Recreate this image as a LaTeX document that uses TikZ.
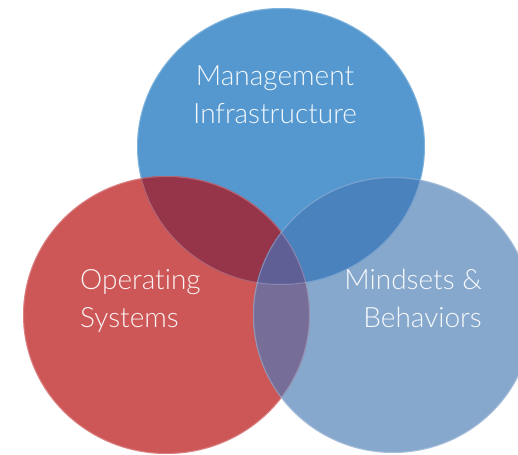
\documentclass[tikz,border=0pt]{standalone}
\usepackage{fontspec}
\setmainfont{Lato Light}[Ligatures=NoCommon]
\definecolor{cTop}{RGB}{84,152,207}
\definecolor{cRed}{RGB}{205,86,87}
\definecolor{cRight}{RGB}{135,168,205}
\definecolor{cRT}{RGB}{150,52,73}
\definecolor{cTR}{RGB}{74,130,190}
\definecolor{cRR}{RGB}{118,110,152}
\definecolor{cAll}{RGB}{95,95,150}
\tikzset{
  lbl/.style={text=white, text opacity=0.93, inner sep=0pt,
    font=\fontsize{28}{38}\selectfont},
  rim/.style={draw=white, draw opacity=0.25, line width=1pt}
}
\begin{document}
\begin{tikzpicture}[x=1pt,y=-1pt]
\useasboundingbox (0,0) rectangle (518,454);
% base circles
\fill[cTop] (281,146.5) ellipse [x radius=144pt, y radius=138.5pt];
\fill[cRed] (166.5,315) ellipse [x radius=143.5pt, y radius=139pt];
\fill[cRight] (393,315) ellipse [x radius=140pt, y radius=138pt];
% overlaps
\begin{scope}
  \clip (281,146.5) ellipse [x radius=144pt, y radius=138.5pt];
  \fill[cRT] (166.5,315) ellipse [x radius=143.5pt, y radius=139pt];
  \fill[cTR] (393,315) ellipse [x radius=140pt, y radius=138pt];
\end{scope}
\begin{scope}
  \clip (166.5,315) ellipse [x radius=143.5pt, y radius=139pt];
  \fill[cRR] (393,315) ellipse [x radius=140pt, y radius=138pt];
  \clip (393,315) ellipse [x radius=140pt, y radius=138pt];
  \fill[cAll] (281,146.5) ellipse [x radius=144pt, y radius=138.5pt];
\end{scope}
% subtle rims
\draw[rim] (281,146.5) ellipse [x radius=143.5pt, y radius=138pt];
\draw[rim] (166.5,315) ellipse [x radius=143pt, y radius=138.5pt];
\draw[rim] (393,315) ellipse [x radius=139.5pt, y radius=137.5pt];
% labels (base = baseline of the last line)
\node[lbl, align=center, anchor=base] (mgmt) at (275,124) {Management\\Infrastructure};
\node[lbl, align=left, anchor=base west] (ops) at (80,327) {Operating\\Systems};
\node[lbl, align=right, anchor=base east] (mind) at (482,327) {Mindsets \&\\Behaviors};
\end{tikzpicture}
\end{document}
